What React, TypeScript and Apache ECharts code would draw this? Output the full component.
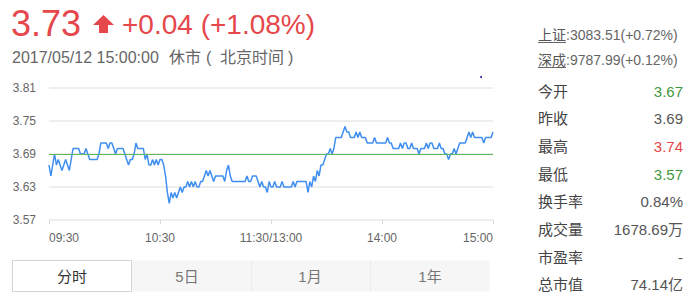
import React, { useEffect, useRef } from 'react';
import * as echarts from 'echarts';

// One price per trading minute: 09:30–11:30 then 13:01–15:00
const minutePrices = [
  3.67, 3.65, 3.67, 3.69, 3.67, 3.68, 3.67, 3.66, 3.67, 3.68,
  3.67, 3.66, 3.68, 3.70, 3.70, 3.70, 3.70, 3.69, 3.69, 3.69,
  3.70, 3.69, 3.68, 3.68, 3.68, 3.68, 3.68, 3.69, 3.71, 3.71,
  3.71, 3.71, 3.70, 3.71, 3.71, 3.70, 3.69, 3.70, 3.70, 3.70,
  3.70, 3.69, 3.68, 3.67, 3.68, 3.68, 3.69, 3.71, 3.70, 3.70,
  3.70, 3.70, 3.68, 3.69, 3.67, 3.67, 3.68, 3.67, 3.68, 3.67,
  3.68, 3.68, 3.67, 3.65, 3.62, 3.60, 3.62, 3.61, 3.62, 3.61,
  3.62, 3.63, 3.62, 3.63, 3.63, 3.64, 3.63, 3.64, 3.63, 3.64,
  3.63, 3.63, 3.64, 3.64, 3.65, 3.66, 3.65, 3.66, 3.65, 3.64,
  3.65, 3.65, 3.65, 3.65, 3.65, 3.64, 3.66, 3.67, 3.65, 3.64,
  3.64, 3.64, 3.64, 3.64, 3.64, 3.64, 3.64, 3.65, 3.64, 3.64,
  3.65, 3.65, 3.65, 3.64, 3.63, 3.64, 3.63, 3.63, 3.62, 3.64,
  3.63,
  3.63, 3.64, 3.63, 3.63, 3.63, 3.64, 3.63, 3.63, 3.63, 3.63,
  3.63, 3.64, 3.63, 3.64, 3.64, 3.64, 3.64, 3.64, 3.64, 3.62,
  3.64, 3.63, 3.65, 3.64, 3.66, 3.65, 3.67, 3.67, 3.68, 3.69,
  3.69, 3.70, 3.69, 3.70, 3.72, 3.72, 3.72, 3.72, 3.73, 3.74,
  3.73, 3.73, 3.72, 3.72, 3.72, 3.73, 3.72, 3.73, 3.72, 3.72,
  3.72, 3.71, 3.71, 3.71, 3.71, 3.72, 3.71, 3.71, 3.71, 3.71,
  3.71, 3.71, 3.72, 3.71, 3.71, 3.70, 3.70, 3.70, 3.70, 3.71,
  3.70, 3.71, 3.71, 3.70, 3.70, 3.71, 3.70, 3.70, 3.70, 3.69,
  3.70, 3.70, 3.70, 3.71, 3.70, 3.71, 3.71, 3.70, 3.70, 3.70,
  3.71, 3.70, 3.70, 3.69, 3.69, 3.68, 3.69, 3.69, 3.70, 3.69,
  3.70, 3.71, 3.71, 3.71, 3.71, 3.72, 3.73, 3.72, 3.73, 3.72,
  3.72, 3.72, 3.72, 3.72, 3.71, 3.72, 3.72, 3.72, 3.72, 3.73,
];

const prevClose = 3.69;
const priceMin = 3.57;
const priceMax = 3.81;
const priceStep = 0.06;

const timeTickIndex = [0, 60, 120, 180, 240];
const timeTickText = ['09:30', '10:30', '11:30/13:00', '14:00', '15:00'];

const headline = ['3.73', '+0.04 (+1.08%)'];
const sessionLine = ['2017/05/12 15:00:00', '休市', '(', '北京时间', ')'];

const indexNames = ['上证', '深成'];
const indexQuotes = [':3083.51(+0.72%)', ':9787.99(+0.12%)'];

const statNames = ['今开', '昨收', '最高', '最低', '换手率', '成交量', '市盈率', '总市值'];
const statValues = ['3.67', '3.69', '3.74', '3.57', '0.84%', '1678.69万', '-', '74.14亿'];
const statTones = ['down', 'flat', 'up', 'down', 'flat', 'flat', 'flat', 'flat'];

const tabNames = ['分时', '5日', '1月', '1年'];

const RED = '#e5474b';
const GREEN = '#3f9a3f';
const FONT = '"Liberation Sans", Arial, "Noto Sans CJK SC", sans-serif';

function buildMinuteLabels(): string[] {
  const out: string[] = [];
  const pad = (n: number) => (n < 10 ? '0' + n : '' + n);
  for (let m = 9 * 60 + 30; m <= 11 * 60 + 30; m++) out.push(pad(Math.floor(m / 60)) + ':' + pad(m % 60));
  for (let m = 13 * 60 + 1; m <= 15 * 60; m++) out.push(pad(Math.floor(m / 60)) + ':' + pad(m % 60));
  return out;
}

function txt(x: number, y: number, text: string, size: number, fill: string, align = 'left') {
  return {
    type: 'text',
    x,
    y,
    silent: true,
    style: {
      text,
      fill,
      font: `${size}px ${FONT}`,
      align,
      verticalAlign: 'middle',
      textAlign: align,
      textVerticalAlign: 'middle',
    },
  };
}

export default function App() {
  const ref = useRef<HTMLDivElement>(null);

  useEffect(() => {
    if (!ref.current) return;
    const chart = echarts.init(ref.current, undefined, { renderer: 'svg' });
    const minuteLabels = buildMinuteLabels();
    const showAt = (i: number) => timeTickIndex.indexOf(i) >= 0;

    const graphic: any[] = [];

    // headline price, arrow and change
    graphic.push(txt(11, 23, headline[0], 36, RED));
    graphic.push({
      type: 'polygon',
      silent: true,
      shape: {
        points: [[103.5, 15], [114, 25], [108, 25], [108, 33], [99, 33], [99, 25], [93, 25]],
      },
      style: { fill: RED },
    });
    graphic.push(txt(122, 24, headline[1], 28, RED));

    // session status line
    graphic.push(txt(12, 57, sessionLine[0], 16, '#666'));
    graphic.push(txt(169, 57, sessionLine[1], 16, '#666'));
    graphic.push(txt(206, 57, sessionLine[2], 16, '#666'));
    graphic.push(txt(220, 57, sessionLine[3], 16, '#666'));
    graphic.push(txt(288, 57, sessionLine[4], 16, '#666'));

    // market indices
    indexNames.forEach((name, i) => {
      const y = 35 + i * 25;
      graphic.push(txt(538, y, name, 14, '#555'));
      graphic.push({
        type: 'line',
        silent: true,
        shape: { x1: 538, y1: y + 7.5, x2: 566, y2: y + 7.5 },
        style: { stroke: '#666', lineWidth: 1 },
      });
      graphic.push(txt(566, y, indexQuotes[i], 14, '#666'));
    });

    // quote statistics
    statNames.forEach((name, i) => {
      const y = 91 + i * 27.7;
      const tone = statTones[i];
      const color = tone === 'up' ? RED : tone === 'down' ? GREEN : '#555';
      graphic.push(txt(538, y, name, 15, '#444'));
      graphic.push(txt(683, y, statValues[i], 15, color, 'right'));
    });

    // period tabs
    graphic.push({
      type: 'rect',
      silent: true,
      shape: { x: 132, y: 260.5, width: 358, height: 31 },
      style: { fill: '#f6f6f6' },
    });
    [251.5, 370.5].forEach((x) =>
      graphic.push({
        type: 'line',
        silent: true,
        shape: { x1: x, y1: 260.5, x2: x, y2: 291.5 },
        style: { stroke: '#ebebeb', lineWidth: 1 },
      })
    );
    graphic.push({
      type: 'rect',
      silent: true,
      shape: { x: 12.5, y: 260.5, width: 119, height: 31 },
      style: { fill: '#fff', stroke: '#d4d4d4', lineWidth: 1 },
    });
    const tabCenters = [72, 187, 310, 430];
    tabNames.forEach((name, i) => {
      graphic.push(txt(tabCenters[i], 276, name, 15, i === 0 ? '#333' : '#777', 'center'));
    });

    // small marker dot in the plot corner
    graphic.push({
      type: 'circle',
      silent: true,
      shape: { cx: 481, cy: 77, r: 1 },
      style: { fill: '#22229a' },
    });

    chart.setOption({
      animation: false,
      backgroundColor: '#fff',
      grid: { left: 49, right: 199, top: 88, bottom: 80 },
      xAxis: {
        type: 'category',
        boundaryGap: false,
        data: minuteLabels,
        axisLine: { show: false },
        axisTick: {
          show: true,
          interval: (i: number) => showAt(i),
          length: 4,
          lineStyle: { color: '#d8d8d8' },
        },
        axisLabel: {
          interval: (i: number) => showAt(i),
          formatter: (_v: string, i: number) => timeTickText[timeTickIndex.indexOf(i)] ?? '',
          color: '#666',
          fontSize: 12,
          fontFamily: FONT,
          margin: 12,
          alignMinLabel: 'left',
          alignMaxLabel: 'right',
        },
        splitLine: { show: false },
      },
      yAxis: {
        type: 'value',
        min: priceMin,
        max: priceMax,
        interval: priceStep,
        axisLine: { show: false },
        axisTick: { show: false },
        axisLabel: {
          color: '#666',
          fontSize: 12,
          fontFamily: FONT,
          margin: 13,
          formatter: (v: number) => v.toFixed(2),
        },
        splitLine: { lineStyle: { color: '#e8e8e8', width: 1.5 } },
      },
      series: [
        {
          type: 'line',
          data: minutePrices,
          showSymbol: false,
          symbol: 'none',
          lineStyle: { color: '#3f8ef0', width: 1.5 },
          silent: true,
          markLine: {
            silent: true,
            symbol: 'none',
            label: { show: false },
            lineStyle: { color: '#5cb85c', type: 'solid', width: 1 },
            data: [{ yAxis: prevClose }],
          },
          z: 3,
        },
      ],
      graphic,
    });

    return () => chart.dispose();
  }, []);

  return (
    <div
      ref={ref}
      style={{ position: 'fixed', left: 0, top: 0, width: 692, height: 300, background: '#fff' }}
    />
  );
}
